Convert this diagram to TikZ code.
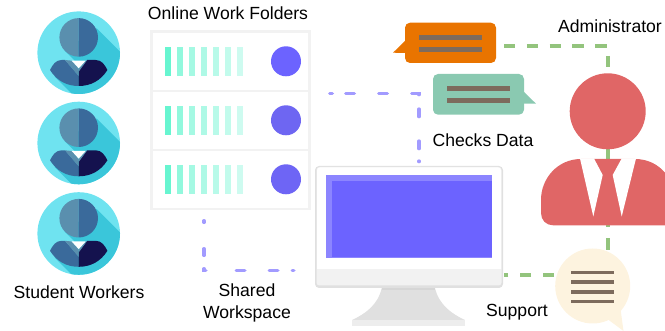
\documentclass[tikz,border=0pt]{standalone}
\usepackage{fontspec}
\setmainfont{Liberation Sans}
\definecolor{cyanl}{HTML}{6FE3F0}
\definecolor{cyand}{HTML}{3AC6DA}
\definecolor{bluel}{HTML}{5A8FAE}
\definecolor{bluem}{HTML}{3A6A9B}
\definecolor{navy}{HTML}{14124E}
\definecolor{rackb}{HTML}{F2F2F2}
\definecolor{violet}{HTML}{6C63FF}
\definecolor{violetl}{HTML}{8C85FF}
\definecolor{orangeb}{HTML}{E97400}
\definecolor{tealb}{HTML}{8AC9B1}
\definecolor{brownl}{HTML}{7D6B5D}
\definecolor{redp}{HTML}{E06666}
\definecolor{creamb}{HTML}{FDF3DF}
\definecolor{greend}{HTML}{93C47D}
\definecolor{purpled}{HTML}{A29BFF}
\definecolor{rowbar}{HTML}{5FF5CE}
\tikzset{
  label text/.style={font=\fontsize{13.2pt}{16.5pt}\selectfont,text=black,inner sep=0pt,align=center},
  green link/.style={draw=greend,line width=3pt,dash pattern=on 8.6pt off 8.5pt},
  purple link/.style={draw=purpled,line width=2.5pt,line cap=round},
}
\newcommand{\student}[2]{%
  \begin{scope}[shift={(#1,#2)}]
    \fill[cyanl] (0,0) circle (41.3);
    \begin{scope}
      \clip (0,0) circle (41.3);
      \fill[cyand] (18,-24.4) -- (60,17.6) -- (60,60) -- (4,52) -- (-24,24) -- (-4,8) -- (-14,-2) -- cycle;
    \end{scope}
    \fill[bluel] (0,-34.6) arc (-90:-270:19.3) -- cycle;
    \fill[bluem] (0,-34.6) arc (-90:90:19.3) -- cycle;
    \fill[bluem] (-28.7,17.3) .. controls (-26,12) and (-23,7.3) .. (-17,7.3) -- (-13.7,7.3) -- (0,23.3) -- (0,33.3) .. controls (-12,33.3) and (-22,28) .. (-28.7,17.3) -- cycle;
    \fill[navy] (28.7,17.3) .. controls (26,12) and (23,7.3) .. (17,7.3) -- (8.5,7.3) -- (0,18) -- (0,33.3) .. controls (12,33.3) and (22,28) .. (28.7,17.3) -- cycle;
    \fill[bluel] (-13.7,7.3) -- (-7,8) -- (0,16) -- (0,23.3) -- cycle;
    \fill[bluel] (8.5,7.3) -- (7,8) -- (0,16) -- (0,19) -- cycle;
    \fill[white] (-7,8) -- (7,8) -- (0,15.6) -- cycle;
  \end{scope}}
\newcommand{\rackrow}[3]{%
  \fill[white] (153,#1) rectangle (308,#2);
  \foreach \k/\o in {0/.95,1/.68,2/.56,3/.5,4/.44,5/.38,6/.3}{
    \fill[rowbar,opacity=\o] ({165+12*\k},{#1+14}) rectangle ({171+12*\k},{#1+43});}
  \fill[#3] (286,{#1+28.3}) circle (15);}
\begin{document}
\begin{tikzpicture}[x=0.75pt,y=-0.75pt]
\useasboundingbox (0,0) rectangle (665,331);
\begin{scope}
\clip (0,0) rectangle (665,331);
% anchors
\coordinate (orangeEnd) at (504,46);
\coordinate (corner) at (608,46);
\coordinate (adminFoot) at (608,250);
\coordinate (supportIn) at (554,275);
\coordinate (monitorR) at (504,275);
\coordinate (rackBottom) at (204,220.7);
\coordinate (cornerA) at (204,270.5);
\coordinate (sharedEnd) at (294,270.5);
\coordinate (rackRight) at (329.7,93.3);
\coordinate (cornerB) at (419,93.3);
\coordinate (monitorTop) at (419,163);
% connectors
\draw[green link] (orangeEnd) -- (corner) -- (adminFoot);
\draw[green link] (supportIn) -- (monitorR);
\draw[purple link,dash pattern=on 1.25pt off 19.75pt on 5pt off 10pt on 2.75pt off 22.75pt on 6.5pt off 18.25pt on 6.5pt off 10.75pt on 1.25pt off 100pt] (rackBottom) -- (cornerA) -- (sharedEnd);
\draw[purple link,dash pattern=on 2pt off 10pt on 6.5pt off 18.25pt on 6.5pt off 18.25pt on 6.5pt off 10.75pt on 5.75pt off 18.25pt on 5.75pt off 9.25pt on 0.5pt off 100pt] (rackRight) -- (cornerB) -- (monitorTop);
% students
\student{78.7}{52.7}
\student{78.7}{143}
\student{78.7}{233.5}
% rack
\fill[rackb] (150,30) rectangle (310.5,210);
\rackrow{33}{90}{violet}
\rackrow{92}{149}{violet!90!gray}
\rackrow{151}{208}{violet!92!gray}
% orange bubble
\fill[orangeb] (393,52.7) -- (406,40) -- (406,53) -- cycle;
\fill[orangeb,rounded corners=3.75pt] (405,22.7) rectangle (496,63);
\fill[brownl] (419,35) rectangle (482,39.7);
\fill[brownl] (419,46.7) rectangle (482,51.7);
% teal bubble
\fill[tealb] (523,91) -- (536,103.7) -- (523,103.7) -- cycle;
\fill[tealb,rounded corners=3.75pt] (433,74) rectangle (524,114.7);
\fill[brownl] (447,86) rectangle (510,91);
\fill[brownl] (447,98) rectangle (510,103);
% admin
\fill[redp] (607.7,111.3) circle (38);
\fill[redp] (581,159) -- (635,159) .. controls (660,159) and (675,180) .. (675,200) -- (675,225.3) -- (553,225.3) .. controls (546,225.3) and (541,220) .. (541,213) -- (541,200) .. controls (541,178) and (558,159) .. (581,159) -- cycle;
\fill[white] (580,158.5) -- (594,158.5) -- (602.7,175) -- (593.3,216.5) -- cycle;
\fill[white] (636,158.5) -- (621.7,158.5) -- (612.7,175) -- (621.7,216.5) -- cycle;
% monitor
\fill[black!12,rounded corners=3pt] (315,166) rectangle (503,288);
\fill[rackb,rounded corners=2.2pt] (316.5,167) rectangle (501.5,285.5);
\fill[white,rounded corners=2.2pt] (317,167.5) rectangle (501,272);
\fill[rackb] (317,269) rectangle (501,272);
\fill[violetl] (325.7,175) rectangle (492,258);
\fill[violet] (332,181) rectangle (492,257);
\fill[black!12] (381.7,288) .. controls (378,305) and (365,314) .. (352,320) -- (465,320) .. controls (452,314) and (439,305) .. (435,288) -- cycle;
\fill[black!16] (381.7,288) rectangle (435,290.5);
\fill[black!7] (352,320) rectangle (465,326);
% support
\fill[creamb] (592.7,286) circle (37.5);
\fill[creamb] (620,305) -- (623.5,331) -- (606,318) -- cycle;
\foreach \y in {272.7,282.3,292,301.5}{\fill[brownl] (571,\y-1.8) rectangle (614,\y+1.8);}
\end{scope}
% text
\node[label text] (tFolders) at (228,13) {Online Work Folders};
\node[label text] (tAdmin) at (610,26) {Administrator};
\node[label text] (tChecks) at (483,140) {Checks Data};
\node[label text] (tStudents) at (79,292) {Student Workers};
\node[label text] (tShared) at (247,302.5) {Shared\\Workspace};
\node[label text] (tSupport) at (517,312) {Support};
\end{tikzpicture}
\end{document}
